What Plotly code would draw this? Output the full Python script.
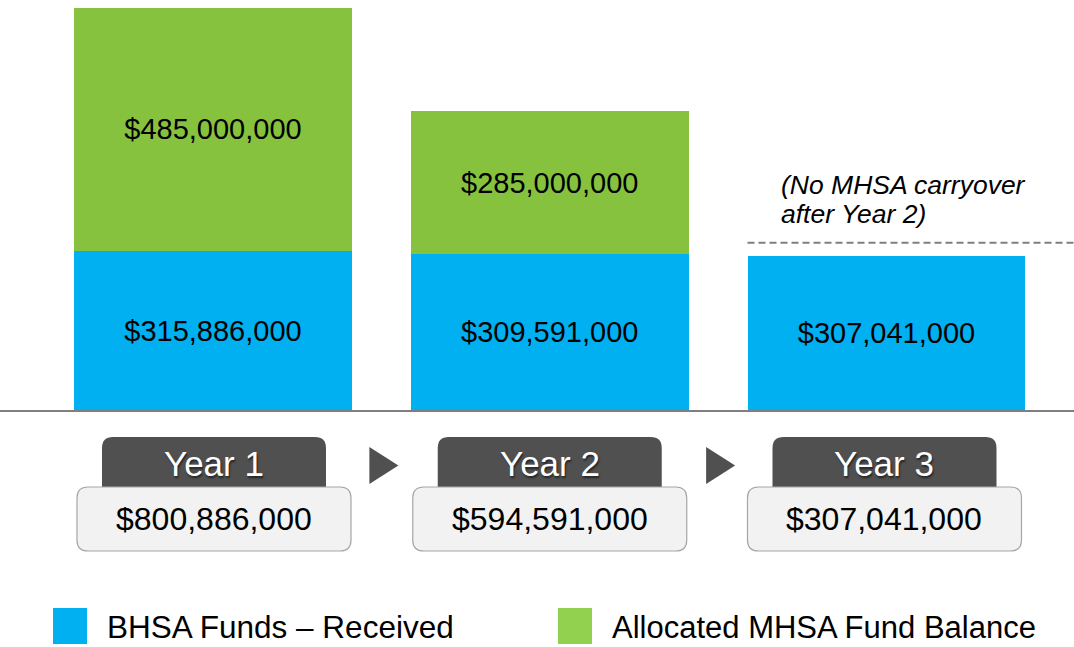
import plotly.graph_objects as go

# ---------------- data ----------------
years = ["Year 1", "Year 2", "Year 3"]
bhsa_received = [315886000, 309591000, 307041000]
mhsa_balance = [485000000, 285000000, None]
series_names = ["BHSA Funds – Received", "Allocated MHSA Fund Balance"]
note_lines = ["(No MHSA carryover", "after Year 2)"]
mhsa_cap_level = 333e6  # level of the dashed "no carryover" reference line

# ---------------- style ----------------
W, H = 1074, 647
FONT = "Liberation Sans, Arial, sans-serif"
BLUE = "#00B0F0"
GREEN = "#86C23E"
GREEN_LEG = "#92D050"
DARK = "#505050"
XR = [-0.6325, 2.5568]
YR = [0, 816e6]
PLOT_BOTTOM_PX = 410
BAR_W = 0.8255

totals = [b + (m or 0) for b, m in zip(bhsa_received, mhsa_balance)]


def px(p):
    return p / W


def py(p):
    return 1 - p / H


def cat_px(i):
    return (i - XR[0]) / (XR[1] - XR[0]) * W


def rrect_path(x0, y0, x1, y1, r):
    pts = [
        ("M", [(x0 + r, y0)]),
        ("L", [(x1 - r, y0)]),
        ("Q", [(x1, y0), (x1, y0 + r)]),
        ("L", [(x1, y1 - r)]),
        ("Q", [(x1, y1), (x1 - r, y1)]),
        ("L", [(x0 + r, y1)]),
        ("Q", [(x0, y1), (x0, y1 - r)]),
        ("L", [(x0, y0 + r)]),
        ("Q", [(x0, y0), (x0 + r, y0)]),
    ]
    s = ""
    for cmd, ps in pts:
        s += cmd + " ".join(f"{px(a):.5f},{py(b):.5f}" for a, b in ps) + " "
    return s + "Z"


fig = go.Figure()
fig.add_trace(go.Bar(
    x=years, y=bhsa_received, name=series_names[0], width=BAR_W,
    marker=dict(color=BLUE, line=dict(width=0)),
    texttemplate="$%{y:,.0f}", textposition="inside", insidetextanchor="middle",
    textangle=0, textfont=dict(family=FONT, size=29, color="black"),
    hoverinfo="skip", showlegend=False,
))
fig.add_trace(go.Bar(
    x=years, y=mhsa_balance, name=series_names[1], width=BAR_W,
    marker=dict(color=GREEN, line=dict(width=0)),
    texttemplate="$%{y:,.0f}", textposition="inside", insidetextanchor="middle",
    textangle=0, textfont=dict(family=FONT, size=29, color="black"),
    hoverinfo="skip", showlegend=False,
))

shapes = []
annotations = []

# dashed reference line for year 3
shapes.append(dict(type="line", xref="x", yref="y",
                   x0=2 - BAR_W / 2, x1=XR[1], y0=mhsa_cap_level, y1=mhsa_cap_level,
                   line=dict(color="#7F7F7F", width=2, dash="7px,4px")))
for k, line in enumerate(note_lines):
    annotations.append(dict(text=f"<i>{line}</i>", xref="paper", yref="paper",
                            x=px(779), y=py(185 + 29 * k), xanchor="left", yanchor="middle",
                            showarrow=False, font=dict(family=FONT, size=26.5, color="black")))

# year tabs and total boxes
tab_shift = [1, 0, -2]
for i, (yr, tot) in enumerate(zip(years, totals)):
    cx = cat_px(i) + tab_shift[i]
    shapes.append(dict(type="path", xref="paper", yref="paper",
                       path=rrect_path(cx - 112, 437, cx + 112, 500, 11),
                       fillcolor=DARK, line=dict(width=0), layer="above"))
    shapes.append(dict(type="path", xref="paper", yref="paper",
                       path=rrect_path(cx - 137, 487, cx + 137, 551, 11),
                       fillcolor="#F2F2F2", line=dict(color="#A6A6A6", width=1.2), layer="above"))
    annotations.append(dict(text=yr, xref="paper", yref="paper", x=px(cx), y=py(463),
                            xanchor="center", yanchor="middle", showarrow=False,
                            font=dict(family=FONT, size=35, color="white",
                                      shadow="1px 2px 2px rgba(0,0,0,0.55)")))
    annotations.append(dict(text=f"${tot:,.0f}", xref="paper", yref="paper", x=px(cx), y=py(519),
                            xanchor="center", yanchor="middle", showarrow=False,
                            font=dict(family=FONT, size=32, color="black")))

# arrows between tabs
for i in range(len(years) - 1):
    mid = (cat_px(i) + cat_px(i + 1)) / 2 + 2
    x0, x1 = mid - 14, mid + 15
    shapes.append(dict(type="path", xref="paper", yref="paper",
                       path=f"M{px(x0):.5f},{py(447):.5f} L{px(x1):.5f},{py(465.5):.5f} "
                            f"L{px(x0):.5f},{py(484):.5f} Z",
                       fillcolor=DARK, line=dict(width=0), layer="above"))

# legend (manual, large swatches)
legend_items = [(series_names[0], BLUE, 53, 31.5), (series_names[1], GREEN_LEG, 558, 31)]
for name, col, lx, fs in legend_items:
    shapes.append(dict(type="rect", xref="paper", yref="paper",
                       x0=px(lx), x1=px(lx + 34), y0=py(608), y1=py(644),
                       fillcolor=col, line=dict(width=0)))
    annotations.append(dict(text=name, xref="paper", yref="paper",
                            x=px(lx + 52), y=py(627), xanchor="left", yanchor="middle",
                            showarrow=False, font=dict(family=FONT, size=fs, color="black")))

fig.update_layout(
    width=W, height=H, autosize=False,
    margin=dict(l=0, r=0, t=0, b=0, pad=0),
    paper_bgcolor="white", plot_bgcolor="white",
    barmode="stack", showlegend=False,
    xaxis=dict(range=XR, domain=[0, 1], showgrid=False, zeroline=False,
               showticklabels=False, ticks="", showline=True,
               linecolor="#7F7F7F", linewidth=2, fixedrange=True),
    yaxis=dict(range=YR, domain=[1 - PLOT_BOTTOM_PX / H, 1], visible=False,
               showgrid=False, zeroline=False, fixedrange=True),
    shapes=shapes, annotations=annotations,
    font=dict(family=FONT),
)

fig.write_html("out.html", config={"displayModeBar": False},
               post_script="document.body.style.margin='0px';")
